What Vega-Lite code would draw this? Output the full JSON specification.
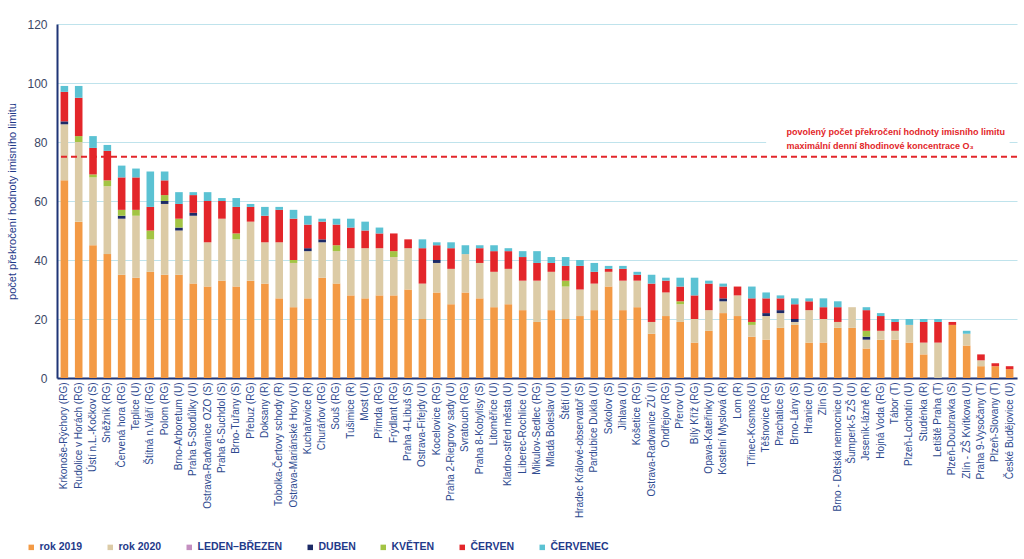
{
  "$schema": "https://vega.github.io/schema/vega-lite/v6.json",
  "width": 960,
  "height": 354,
  "autosize": {"type": "none"},
  "padding": {"left": 57, "top": 24, "right": 7, "bottom": 181},
  "background": "white",
  "config": {
    "font": "Liberation Sans",
    "view": {"stroke": null}
  },
  "datasets": {
    "bars": [
      {"s": "Krkonoše-Rýchory (RG)", "a": 67, "b": 19, "c": 0, "d": 1, "e": 0, "f": 10, "g": 2},
      {"s": "Rudolice v Horách (RG)", "a": 53, "b": 27, "c": 0, "d": 0, "e": 2, "f": 13, "g": 4},
      {"s": "Ústí n.L.-Kočkov (S)", "a": 45, "b": 23, "c": 0, "d": 0, "e": 1, "f": 9, "g": 4},
      {"s": "Sněžník (RG)", "a": 42, "b": 23, "c": 0, "d": 0, "e": 2, "f": 10, "g": 2},
      {"s": "Červená hora (RG)", "a": 35, "b": 19, "c": 0, "d": 1, "e": 2, "f": 11, "g": 4},
      {"s": "Teplice  (U)", "a": 34, "b": 21, "c": 0, "d": 0, "e": 2, "f": 11, "g": 3},
      {"s": "Štítná n.Vláří (RG)", "a": 36, "b": 11, "c": 0, "d": 0, "e": 3, "f": 8, "g": 12},
      {"s": "Polom (RG)", "a": 35, "b": 24, "c": 0, "d": 1, "e": 2, "f": 5, "g": 3},
      {"s": "Brno-Arboretum (U)", "a": 35, "b": 15, "c": 0, "d": 1, "e": 3, "f": 5, "g": 4},
      {"s": "Praha 5-Stodůlky (U)", "a": 32, "b": 23, "c": 0, "d": 1, "e": 0, "f": 6, "g": 1},
      {"s": "Ostrava-Radvanice OZO (S)", "a": 31, "b": 15, "c": 0, "d": 0, "e": 0, "f": 14, "g": 3},
      {"s": "Praha 6-Suchdol (S)", "a": 33, "b": 21, "c": 0, "d": 0, "e": 0, "f": 6, "g": 1},
      {"s": "Brno-Tuřany (S)", "a": 31, "b": 16, "c": 0, "d": 0, "e": 2, "f": 9, "g": 3},
      {"s": "Přebuz (RG)", "a": 33, "b": 20, "c": 0, "d": 0, "e": 0, "f": 5, "g": 1},
      {"s": "Doksany (R)", "a": 32, "b": 14, "c": 0, "d": 0, "e": 0, "f": 9, "g": 3},
      {"s": "Tobolka-Čertovy schody (R)", "a": 27, "b": 19, "c": 0, "d": 0, "e": 0, "f": 11, "g": 1},
      {"s": "Ostrava-Mariánské Hory (U)", "a": 24, "b": 15, "c": 0, "d": 0, "e": 1, "f": 14, "g": 3},
      {"s": "Kuchařovice (R)", "a": 27, "b": 16, "c": 0, "d": 1, "e": 0, "f": 8, "g": 3},
      {"s": "Churáňov (RG)", "a": 34, "b": 12, "c": 0, "d": 1, "e": 0, "f": 6, "g": 1},
      {"s": "Souš (RG)", "a": 32, "b": 11, "c": 0, "d": 0, "e": 2, "f": 7, "g": 2},
      {"s": "Tušimice (R)", "a": 28, "b": 16, "c": 0, "d": 0, "e": 0, "f": 7, "g": 3},
      {"s": "Most (U)", "a": 27, "b": 17, "c": 0, "d": 0, "e": 0, "f": 6, "g": 3},
      {"s": "Přimda (RG)", "a": 28, "b": 16, "c": 0, "d": 0, "e": 0, "f": 5, "g": 2},
      {"s": "Frýdlant (RG)", "a": 28, "b": 13, "c": 0, "d": 0, "e": 2, "f": 6, "g": 0},
      {"s": "Praha 4-Libuš (S)", "a": 30, "b": 14, "c": 0, "d": 0, "e": 0, "f": 3, "g": 0},
      {"s": "Ostrava-Fifejdy (U)", "a": 20, "b": 12, "c": 0, "d": 0, "e": 0, "f": 12, "g": 3},
      {"s": "Kocelovice (RG)", "a": 29, "b": 10, "c": 0, "d": 1, "e": 0, "f": 5, "g": 1},
      {"s": "Praha 2-Riegrovy sady (U)", "a": 25, "b": 12, "c": 0, "d": 0, "e": 0, "f": 7, "g": 2},
      {"s": "Svratouch (RG)", "a": 29, "b": 13, "c": 0, "d": 0, "e": 0, "f": 0, "g": 3},
      {"s": "Praha 8-Kobylisy (S)", "a": 27, "b": 12, "c": 0, "d": 0, "e": 0, "f": 5, "g": 1},
      {"s": "Litoměřice (U)", "a": 24, "b": 12, "c": 0, "d": 0, "e": 0, "f": 7, "g": 2},
      {"s": "Kladno-střed města (U)", "a": 25, "b": 12, "c": 0, "d": 0, "e": 0, "f": 6, "g": 1},
      {"s": "Liberec-Rochlice (U)", "a": 23, "b": 10, "c": 0, "d": 0, "e": 0, "f": 8, "g": 2},
      {"s": "Mikulov-Sedlec (RG)", "a": 19, "b": 14, "c": 0, "d": 0, "e": 0, "f": 6, "g": 4},
      {"s": "Mladá Boleslav (U)", "a": 23, "b": 13, "c": 0, "d": 0, "e": 0, "f": 3, "g": 2},
      {"s": "Štětí (U)", "a": 20, "b": 11, "c": 0, "d": 0, "e": 2, "f": 5, "g": 3},
      {"s": "Hradec Králové-observatoř (S)", "a": 21, "b": 9, "c": 0, "d": 0, "e": 0, "f": 8, "g": 2},
      {"s": "Pardubice Dukla (U)", "a": 23, "b": 9, "c": 0, "d": 0, "e": 0, "f": 4, "g": 3},
      {"s": "Sokolov (S)", "a": 31, "b": 5, "c": 0, "d": 0, "e": 0, "f": 1, "g": 1},
      {"s": "Jihlava (U)", "a": 23, "b": 10, "c": 0, "d": 0, "e": 0, "f": 4, "g": 1},
      {"s": "Košetice (RG)", "a": 24, "b": 9, "c": 0, "d": 0, "e": 0, "f": 2, "g": 1},
      {"s": "Ostrava-Radvanice ZÚ (I)", "a": 15, "b": 4, "c": 0, "d": 0, "e": 0, "f": 13, "g": 3},
      {"s": "Ondřejov (RG)", "a": 21, "b": 8, "c": 0, "d": 0, "e": 0, "f": 4, "g": 1},
      {"s": "Přerov (U)", "a": 19, "b": 6, "c": 0, "d": 0, "e": 1, "f": 5, "g": 3},
      {"s": "Bílý Kříž (RG)", "a": 12, "b": 8, "c": 0, "d": 0, "e": 0, "f": 8, "g": 6},
      {"s": "Opava-Kateřinky (U)", "a": 16, "b": 7, "c": 0, "d": 0, "e": 0, "f": 9, "g": 1},
      {"s": "Kostelní Myslová (R)", "a": 22, "b": 4, "c": 0, "d": 1, "e": 0, "f": 4, "g": 1},
      {"s": "Lom (R)", "a": 21, "b": 7, "c": 0, "d": 0, "e": 0, "f": 3, "g": 0},
      {"s": "Třinec-Kosmos (U)", "a": 14, "b": 4, "c": 0, "d": 0, "e": 1, "f": 8, "g": 4},
      {"s": "Těšnovice (RG)", "a": 13, "b": 8, "c": 0, "d": 1, "e": 0, "f": 5, "g": 2},
      {"s": "Prachatice (S)", "a": 17, "b": 5, "c": 0, "d": 1, "e": 0, "f": 4, "g": 1},
      {"s": "Brno-Lány (S)", "a": 18, "b": 1, "c": 0, "d": 1, "e": 0, "f": 5, "g": 2},
      {"s": "Hranice (U)", "a": 12, "b": 11, "c": 0, "d": 0, "e": 0, "f": 3, "g": 1},
      {"s": "Zlín (S)", "a": 12, "b": 8, "c": 0, "d": 0, "e": 0, "f": 4, "g": 3},
      {"s": "Brno - Dětská nemocnice (U)", "a": 17, "b": 2, "c": 0, "d": 0, "e": 0, "f": 5, "g": 2},
      {"s": "Šumperk-5 ZŠ (U)", "a": 17, "b": 7, "c": 0, "d": 0, "e": 0, "f": 0, "g": 0},
      {"s": "Jeseník-lázně (R)", "a": 10, "b": 3, "c": 0, "d": 1, "e": 2, "f": 7, "g": 1},
      {"s": "Hojná Voda (RG)", "a": 13, "b": 3, "c": 0, "d": 0, "e": 0, "f": 5, "g": 1},
      {"s": "Tábor (T)", "a": 13, "b": 3, "c": 0, "d": 0, "e": 0, "f": 3, "g": 1},
      {"s": "Plzeň-Lochotín (U)", "a": 12, "b": 6, "c": 0, "d": 0, "e": 0, "f": 0, "g": 2},
      {"s": "Studénka (R)", "a": 8, "b": 4, "c": 0, "d": 0, "e": 0, "f": 7, "g": 1},
      {"s": "Letiště Praha (T)", "a": 0, "b": 12, "c": 0, "d": 0, "e": 0, "f": 7, "g": 1},
      {"s": "Plzeň-Doubravka (S)", "a": 18, "b": 0, "c": 0, "d": 0, "e": 0, "f": 1, "g": 0},
      {"s": "Zlín - ZŠ Kvítkova (U)", "a": 11, "b": 4, "c": 0, "d": 0, "e": 0, "f": 0, "g": 1},
      {"s": "Praha 9-Vysočany (T)", "a": 4, "b": 2, "c": 0, "d": 0, "e": 0, "f": 2, "g": 0},
      {"s": "Plzeň-Slovany (T)", "a": 4, "b": 0, "c": 0, "d": 0, "e": 0, "f": 1, "g": 0},
      {"s": "České Budějovice (U)", "a": 3, "b": 0, "c": 0, "d": 0, "e": 0, "f": 1, "g": 0}
    ],
    "limit": [{"v": 75}],
    "note": [
      {"s": "Prachatice (S)", "v": 83.4, "t": "povolený počet překročení hodnoty imisního limitu"},
      {"s": "Prachatice (S)", "v": 78.6, "t": "maximální  denní 8hodinové koncentrace O₃"}
    ],
    "bg": [{"s1": "Těšnovice (RG)", "s2": "České Budějovice (U)", "v1": 77, "v2": 86}]
  },
  "layer": [
    {
      "data": {"name": "bars"},
      "transform": [
        {"fold": ["a", "b", "c", "d", "e", "f", "g"], "as": ["k", "val"]},
        {"lookup": "k", "from": {"data": {"values": [
          {"k": "a", "cat": "rok 2019", "o": 1},
          {"k": "b", "cat": "rok 2020", "o": 2},
          {"k": "c", "cat": "LEDEN–BŘEZEN", "o": 3},
          {"k": "d", "cat": "DUBEN", "o": 4},
          {"k": "e", "cat": "KVĚTEN", "o": 5},
          {"k": "f", "cat": "ČERVEN", "o": 6},
          {"k": "g", "cat": "ČERVENEC", "o": 7}
        ]}, "key": "k", "fields": ["cat", "o"]}}
      ],
      "mark": {"type": "bar"},
      "encoding": {
        "x": {
          "field": "s", "type": "nominal", "sort": null,
          "scale": {"paddingInner": 0.47, "paddingOuter": 0.25},
          "axis": {
            "title": null, "labelAngle": -90, "labelFontSize": 10, "labelColor": "#2e4a8f",
            "labelPadding": 4, "ticks": false, "domain": true, "domainColor": "#1f3576", "domainWidth": 2,
            "labelLimit": 200
          }
        },
        "y": {
          "field": "val", "type": "quantitative", "stack": "zero",
          "scale": {"domain": [0, 120]},
          "axis": {
            "title": "počet překročení hodnoty imisního limitu", "titleFontSize": 11, "titleFontWeight": "normal",
            "titleColor": "#1f3a8a", "titlePadding": 9,
            "values": [0, 20, 40, 60, 80, 100, 120], "labelFontSize": 12, "labelColor": "#3c4766",
            "labelPadding": 10, "ticks": false, "domainColor": "#1f3576", "domainWidth": 2,
            "gridColor": "#bfe3ec", "gridWidth": 1
          }
        },
        "color": {
          "field": "cat", "type": "nominal",
          "scale": {
            "domain": ["rok 2019", "rok 2020", "LEDEN–BŘEZEN", "DUBEN", "KVĚTEN", "ČERVEN", "ČERVENEC"],
            "range": ["#f39a45", "#dccba6", "#c48fc0", "#1c2a66", "#a3c444", "#e3262a", "#5bc2d3"]
          },
          "legend": {
            "title": null, "orient": "none", "legendX": -31, "legendY": 518, "direction": "horizontal",
            "symbolType": "square", "symbolSize": 30, "labelFontSize": 10.5, "labelFontWeight": "bold",
            "labelColor": "#1f3a8a", "columnPadding": 22, "symbolStrokeWidth": 0, "labelOffset": 3
          }
        },
        "order": {"field": "o", "type": "quantitative"}
      }
    },
    {
      "data": {"name": "bg"},
      "mark": {"type": "rect", "color": "white", "opacity": 1},
      "encoding": {
        "x": {"field": "s1", "type": "nominal", "sort": null},
        "x2": {"field": "s2"},
        "y": {"field": "v1", "type": "quantitative"},
        "y2": {"field": "v2"}
      }
    },
    {
      "data": {"name": "limit"},
      "mark": {"type": "rule", "color": "#e3262a", "strokeWidth": 2, "strokeDash": [6, 4]},
      "encoding": {"y": {"field": "v", "type": "quantitative"}}
    },
    {
      "data": {"name": "note"},
      "mark": {"type": "text", "color": "#e3262a", "fontSize": 9, "fontWeight": "bold", "align": "left", "baseline": "middle", "dx": 6},
      "encoding": {
        "x": {"field": "s", "type": "nominal", "sort": null},
        "y": {"field": "v", "type": "quantitative"},
        "text": {"field": "t"}
      }
    }
  ]
}
